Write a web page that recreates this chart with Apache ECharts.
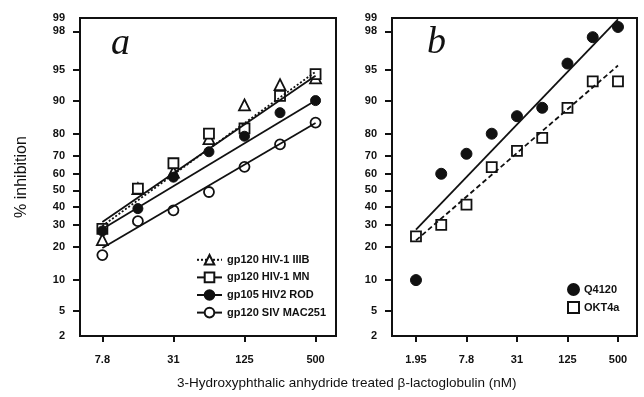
<!DOCTYPE html>
<html>
<head>
<meta charset="utf-8">
<script src="https://cdn.jsdelivr.net/npm/echarts@6/dist/echarts.min.js"></script>
<style>
  html, body { margin: 0; padding: 0; background: #fff; }
  #chart { width: 644px; height: 397px; }
</style>
</head>
<body>
<div id="chart"></div>
<script>
// concentrations (nM), two-fold dilutions
const concA = [7.8125, 15.625, 31.25, 62.5, 125, 250, 500]
const concB = [1.953125, 3.90625, 7.8125, 15.625, 31.25, 62.5, 125, 250, 500]

// panel a, % inhibition
const gp120IIIB = [23, 51, 61, 78, 89, 93, 94]
const gp120MN = [28, 51, 66, 80, 82, 91, 94.5]
const gp105ROD = [27, 39, 58, 72, 79, 87, 90]
const gp120SIV = [17, 32, 38, 49, 64, 75.5, 84]

// fitted lines: value at lowest and highest concentration
const fitIIIB = [29.5, 94.8]
const fitMN = [31.5, 94.3]
const fitROD = [28, 90]
const fitSIV = [19.6, 83.9]

// panel b, % inhibition
const q4120 = [10, 60, 71, 80, 86, 88.3, 95.7, 97.7, 98.2]
const okt4a = [24.5, 30, 41.4, 63.8, 72.4, 78.3, 88.3, 93.5, 93.5]
const fitQ4120 = [27.6, 98.5]
const fitOKT4a = [22.7, 95.5]

// axes
const xTicksA = [7.8125, 31.25, 125, 500]
const xTickLabelsA = ['7.8', '31', '125', '500']
const xTicksB = [1.953125, 7.8125, 31.25, 125, 500]
const xTickLabelsB = ['1.95', '7.8', '31', '125', '500']
const yTicks = [2, 5, 10, 20, 30, 40, 50, 60, 70, 80, 90, 95, 98, 99]
const xRangeA = [5.05, 745]
const xRangeB = [1.011, 843]
const yRange = [2.75, 98.55]

// log2 x scale, logit y scale
const lx = c => Math.log2(c)
const ly = p => Math.log(p / (100 - p))
const yMin = ly(yRange[0])
const yMax = ly(yRange[1])
const yPos = yTicks.map(p => Math.min(yMax, Math.max(yMin, ly(p))))
const yTickPos = yPos.filter(v => v > yMin && v < yMax)

const nearest = (arr, v) => {
  let best = 0
  arr.forEach((a, i) => { if (Math.abs(a - v) < Math.abs(arr[best] - v)) best = i })
  return best
}

const black = '#111'
const tickFont = { color: black, fontFamily: 'Liberation Sans, Arial, sans-serif', fontWeight: 'bold', fontSize: 11 }

const pts = (xs, ys) => xs.map((c, i) => [lx(c), ly(ys[i])])
const fit = (xs, f) => [[lx(xs[0]), ly(f[0])], [lx(xs[xs.length - 1]), ly(f[1])]]

const makeX = (idx, ticks, labels, range) => ({
  type: 'value',
  gridIndex: idx,
  min: lx(range[0]),
  max: lx(range[1]),
  axisLine: { show: true, onZero: false, lineStyle: { color: black, width: 2 } },
  axisTick: { show: true, customValues: ticks.map(lx), length: 6, lineStyle: { color: black, width: 2 } },
  axisLabel: {
    customValues: ticks.map(lx),
    margin: 18,
    ...tickFont,
    formatter: v => labels[nearest(ticks.map(lx), v)]
  },
  splitLine: { show: false }
})

const makeY = (idx, name) => ({
  type: 'value',
  gridIndex: idx,
  min: yMin,
  max: yMax,
  name: name,
  nameLocation: 'middle',
  nameGap: 50,
  nameTextStyle: { color: black, fontFamily: 'Liberation Sans, Arial, sans-serif', fontSize: 16 },
  axisLine: { show: true, onZero: false, lineStyle: { color: black, width: 2 } },
  axisTick: { show: true, customValues: yTickPos, length: 7, lineStyle: { color: black, width: 2 } },
  axisLabel: {
    customValues: yPos,
    margin: 15,
    ...tickFont,
    formatter: v => String(yTicks[nearest(yPos, v)])
  },
  splitLine: { show: false }
})

const openStyle = { color: '#fff', borderColor: black, borderWidth: 1.8, opacity: 1 }
const filledStyle = { color: black, borderColor: black, borderWidth: 1, opacity: 1 }

const fitLine = (name, data, grid, type, symbol, itemStyle) => ({
  name: name,
  type: 'line',
  xAxisIndex: grid,
  yAxisIndex: grid,
  data: data,
  symbol: symbol,
  showSymbol: false,
  itemStyle: itemStyle,
  lineStyle: { color: black, width: 1.8, type: type },
  silent: true
})

const marks = (name, data, grid, symbol, size, itemStyle) => ({
  name: name,
  type: 'scatter',
  xAxisIndex: grid,
  yAxisIndex: grid,
  data: data,
  symbol: symbol,
  symbolSize: size,
  itemStyle: itemStyle
})

const chart = echarts.init(document.getElementById('chart'), null, { renderer: 'canvas' })

const option = {
  animation: false,
  backgroundColor: '#fff',
  title: [
    {
      text: '3-Hydroxyphthalic anhydride treated β-lactoglobulin (nM)',
      left: 177,
      top: 376,
      padding: 0,
      textStyle: { color: black, fontFamily: 'Liberation Sans, Arial, sans-serif', fontWeight: 'normal', fontSize: 13.5 }
    },
    {
      text: 'a',
      left: 111,
      top: 25,
      padding: 0,
      textStyle: { color: black, fontFamily: 'Liberation Serif, serif', fontStyle: 'italic', fontWeight: 'normal', fontSize: 38 }
    },
    {
      text: 'b',
      left: 427,
      top: 24,
      padding: 0,
      textStyle: { color: black, fontFamily: 'Liberation Serif, serif', fontStyle: 'italic', fontWeight: 'normal', fontSize: 38 }
    }
  ],
  grid: [
    { left: 80, top: 18, width: 256, height: 318, show: true, borderColor: black, borderWidth: 2 },
    { left: 392, top: 18, width: 245, height: 318, show: true, borderColor: black, borderWidth: 2 }
  ],
  xAxis: [
    makeX(0, xTicksA, xTickLabelsA, xRangeA),
    makeX(1, xTicksB, xTickLabelsB, xRangeB)
  ],
  yAxis: [
    makeY(0, '% inhibition'),
    makeY(1, '')
  ],
  legend: [
    {
      orient: 'vertical',
      left: 191,
      top: 249,
      itemWidth: 25,
      itemHeight: 12,
      itemGap: 6,
      selectedMode: false,
      textStyle: { ...tickFont },
      data: ['gp120 HIV-1 IIIB', 'gp120 HIV-1 MN', 'gp105 HIV2 ROD', 'gp120 SIV MAC251']
    },
    {
      orient: 'vertical',
      left: 562,
      top: 278,
      itemWidth: 11,
      itemHeight: 11,
      itemGap: 5,
      selectedMode: false,
      textStyle: { ...tickFont },
      data: ['Q4120', 'OKT4a']
    }
  ],
  series: [
    fitLine('gp120 HIV-1 IIIB', fit(concA, fitIIIB), 0, [2, 2], 'triangle', openStyle),
    fitLine('gp120 HIV-1 MN', fit(concA, fitMN), 0, 'solid', 'rect', openStyle),
    fitLine('gp105 HIV2 ROD', fit(concA, fitROD), 0, 'solid', 'circle', filledStyle),
    fitLine('gp120 SIV MAC251', fit(concA, fitSIV), 0, 'solid', 'circle', openStyle),
    fitLine('Q4120 fit', fit(concB, fitQ4120), 1, 'solid', 'none', filledStyle),
    fitLine('OKT4a fit', fit(concB, fitOKT4a), 1, [5, 3], 'none', openStyle),
    marks('gp120 HIV-1 IIIB', pts(concA, gp120IIIB), 0, 'triangle', 11, openStyle),
    marks('gp120 HIV-1 MN', pts(concA, gp120MN), 0, 'rect', 10, openStyle),
    marks('gp105 HIV2 ROD', pts(concA, gp105ROD), 0, 'circle', 10, filledStyle),
    marks('gp120 SIV MAC251', pts(concA, gp120SIV), 0, 'circle', 10, openStyle),
    marks('Q4120', pts(concB, q4120), 1, 'circle', 11, filledStyle),
    marks('OKT4a', pts(concB, okt4a), 1, 'rect', 10, openStyle)
  ]
}

chart.setOption(option)
</script>
</body>
</html>
